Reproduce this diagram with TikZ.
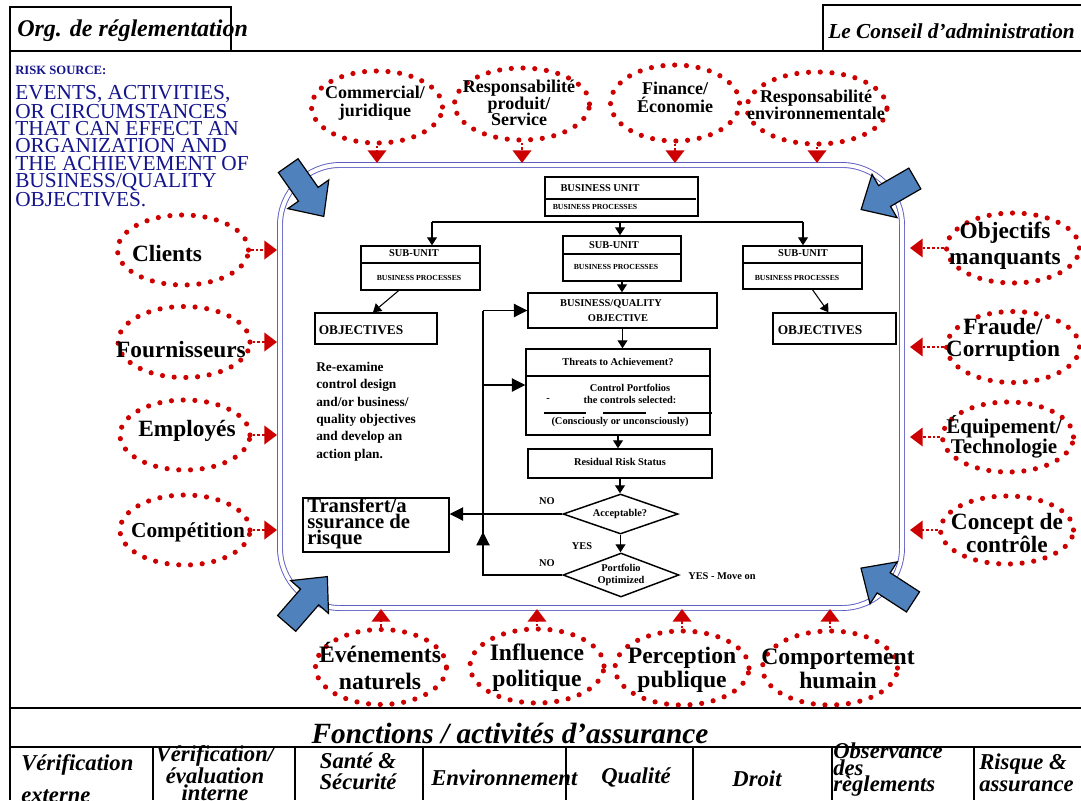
\documentclass[tikz,border=0pt]{standalone}
\usepackage{fontspec}
\setmainfont{Liberation Serif}
\usetikzlibrary{arrows.meta,shapes.geometric,calc}
\definecolor{navyt}{RGB}{20,20,140}
\definecolor{dotred}{RGB}{205,0,0}
\definecolor{framebl}{RGB}{95,95,195}
\definecolor{arrbl}{RGB}{79,129,189}
\newcommand\pw{0.75pt}
\newcommand\fsz[2]{\fontsize{#1}{#2}\selectfont}
\newcommand\blockarrow[2]{\draw[bluearr, shift={#1}, rotate=#2] (-31,-12) -- (4,-12) -- (4,-25) -- (31,0) -- (4,25) -- (4,12) -- (-31,12) -- cycle;}
\tikzset{
  riskell/.style={ellipse, draw=dotred, line width=3.9pt, line cap=round, dash pattern=on 0pt off 8.8pt, inner sep=0pt},
  rlbl/.style={font=\bfseries\fsz{#1}{#1}, align=center, inner sep=0pt},
  redcon/.style={draw=dotred, line width=1.4pt, dash pattern=on 2pt off 1.5pt, -{Triangle[width=14pt,length=9.5pt]}},
  bluearr/.style={draw=black, line width=0.9pt, fill=arrbl, line join=miter},
  fbox/.style={draw, line width=1.1pt, inner sep=0pt, rectangle},
  ddiam/.style={diamond, draw, line width=1.1pt, inner sep=0pt},
  ftxt/.style={font=\bfseries\fsz{7.8}{9.5}, inner sep=0pt, align=center},
  fsmall/.style={font=\bfseries\fsz{5.8}{7}, inner sep=0pt},
  conn/.style={line width=0.8pt, -{Triangle[width=7.5pt,length=6pt]}},
  bigconn/.style={line width=0.8pt, -{Triangle[width=10pt,length=10pt]}},
  btm/.style={font=\bfseries\itshape\fsz{17}{12.5}, inner sep=0pt},
  thick2/.style={line width=2pt},
  divl/.style={line width=1.1pt}
}
\begin{document}
\begin{tikzpicture}[x=0.75pt,y=-0.75pt]
\useasboundingbox (0,0) rectangle (1081,800);
\clip (0,0) rectangle (1081,800);
% ---- outer frame lines
\draw[thick2] (10,51) -- (10,800);
\draw[thick2] (10,51) -- (1081,51);
\draw[line width=2.2pt] (10,708) -- (1081,708);
\draw[line width=1.3pt] (10,747) -- (1081,747);
\foreach \x in {153,295,423,566,693,832,974} \draw[line width=1.3pt] (\x,747) -- (\x,800);
% ---- headers
\node[draw, line width=2pt, minimum width=221*\pw, minimum height=44*\pw, inner sep=0pt] (orgbox) at (120.5,29) {};
\node[font=\bfseries\itshape\fsz{18}{20}, anchor=west, inner sep=0pt] (orgtxt) at (17,31) {Org. de réglementation};
\node[draw, line width=2pt, minimum width=270*\pw, minimum height=46*\pw, inner sep=0pt] (cabox) at (958,28) {};
\node[font=\bfseries\itshape\fsz{16}{18}, anchor=west, inner sep=0pt] (catxt) at (828,31) {Le Conseil d’administration};
% ---- risk source text
\node[font=\bfseries\fsz{9.5}{11}, text=navyt, anchor=west, inner sep=0pt] (rs) at (15,70) {RISK SOURCE:};
\node[font=\fsz{16}{13}, text=navyt, anchor=north west, align=left, inner sep=0pt] (rsbody) at (15,85) {EVENTS, ACTIVITIES,\\OR CIRCUMSTANCES\\THAT CAN EFFECT AN\\ORGANIZATION AND\\THE ACHIEVEMENT OF\\BUSINESS/QUALITY\\OBJECTIVES.};
% ---- big rounded frame
\draw[framebl, line width=0.7pt, double=white, double distance=3pt, rounded corners=45pt] (280,165) rectangle (902,608);
\coordinate (ft) at (0,163);
\coordinate (fb) at (0,609);
\coordinate (fl) at (277,0);
\coordinate (fr) at (910,0);
% ---- top ellipses
\node[riskell, minimum width=131*\pw, minimum height=72*\pw] (comm) at (377,107) {};
\node[rlbl=13.5, font=\bfseries\fsz{13.5}{13.5}] (commt) at (375,103) {Commercial/\\juridique};
\node[riskell, minimum width=135*\pw, minimum height=72*\pw] (prod) at (522,104) {};
\node[rlbl=13.5, font=\bfseries\fsz{13.5}{12.4}] (prodt) at (519,103) {Responsabilité\\produit/\\Service};
\node[riskell, minimum width=129*\pw, minimum height=76*\pw] (fin) at (675,103) {};
\node[rlbl=13.5, font=\bfseries\fsz{13.5}{13.5}] (fint) at (675,97) {Finance/\\Économie};
\node[riskell, minimum width=140*\pw, minimum height=72*\pw] (env) at (817,108) {};
\node[rlbl=13.5, font=\bfseries\fsz{13.5}{11.3}] (envt) at (816,105) {Responsabilité\\environnementale};
\foreach \n in {comm,prod,fin,env} \draw[redcon] (\n.south) -- (\n.south |- ft);
% ---- left ellipses
\node[riskell, minimum width=131*\pw, minimum height=70*\pw] (cli) at (183,250) {};
\node[rlbl=17.5] (clit) at (167,254) {Clients};
\node[riskell, minimum width=132*\pw, minimum height=71*\pw] (fou) at (184,342) {};
\node[rlbl=17.5] (fout) at (181,350) {Fournisseurs};
\node[riskell, minimum width=130*\pw, minimum height=70*\pw] (emp) at (185,435) {};
\node[rlbl=17.5] (empt) at (187,431) {Employés};
\node[riskell, minimum width=130*\pw, minimum height=70*\pw] (com) at (185,530) {};
\node[rlbl=16] (comt) at (188,532) {Compétition};
\foreach \n in {cli,fou,emp,com} \draw[redcon] (\n.east) -- (\n.east -| fl);
% ---- right ellipses
\node[riskell, minimum width=133*\pw, minimum height=70*\pw] (obj) at (1013,248) {};
\node[rlbl=17.5, font=\bfseries\fsz{17.5}{19.5}] (objt) at (1005,246) {Objectifs\\manquants};
\node[riskell, minimum width=133*\pw, minimum height=71*\pw] (fra) at (1013,347) {};
\node[rlbl=17.5, font=\bfseries\fsz{17.5}{17}] (frat) at (1003,340) {Fraude/\\Corruption};
\node[riskell, minimum width=131*\pw, minimum height=70*\pw] (equ) at (1008,437) {};
\node[rlbl=15.7, font=\bfseries\fsz{15.7}{15}] (equt) at (1004,437) {Équipement/\\Technologie};
\node[riskell, minimum width=133*\pw, minimum height=68*\pw] (con) at (1007,530) {};
\node[rlbl=17.5, font=\bfseries\fsz{17.5}{17}] (cont) at (1007,533) {Concept de\\contrôle};
\foreach \n in {obj,fra,equ,con} \draw[redcon] (\n.west) -- (\n.west -| fr);
% ---- bottom ellipses
\node[riskell, minimum width=131*\pw, minimum height=75*\pw] (eve) at (381,667) {};
\node[rlbl=17.7, font=\bfseries\fsz{17.7}{20}] (evet) at (380,666) {Événements\\naturels};
\node[riskell, minimum width=134*\pw, minimum height=74*\pw] (inf) at (537,666) {};
\node[rlbl=17.7, font=\bfseries\fsz{17.7}{19.5}] (inft) at (537,668) {Influence\\politique};
\node[riskell, minimum width=134*\pw, minimum height=74*\pw] (per) at (682,668) {};
\node[rlbl=17.7, font=\bfseries\fsz{17.7}{18}] (pert) at (682,670) {Perception\\publique};
\node[riskell, minimum width=135*\pw, minimum height=74*\pw] (cpt) at (830,668) {};
\node[rlbl=17.7, font=\bfseries\fsz{17.7}{18}] (cptt) at (838,669) {Comportement\\humain};
\foreach \n in {eve,inf,per,cpt} \draw[redcon] (\n.north) -- (\n.north |- fb);
% ---- blue block arrows
\blockarrow{(306,191)}{-55}
\blockarrow{(888,194)}{-150}
\blockarrow{(307,600)}{49}
\blockarrow{(887,585)}{147}
% ---- flowchart boxes
\node[fbox, minimum width=153*\pw, minimum height=39*\pw] (bu) at (621.5,196.5) {};
\draw[divl] (545,199) -- (696,199);
\node[ftxt] (butx) at (600,188) {BUSINESS UNIT};
\node[fsmall] (bubp) at (595,207) {BUSINESS PROCESSES};
\node[fbox, minimum width=119*\pw, minimum height=44*\pw] (sul) at (420.5,268) {};
\draw[divl] (361,263) -- (480,263);
\node[ftxt] (sultx) at (414,253) {SUB-UNIT};
\node[fsmall] (sulbp) at (419,278) {BUSINESS PROCESSES};
\node[fbox, minimum width=118*\pw, minimum height=45*\pw] (suc) at (622,258.5) {};
\draw[divl] (563,254) -- (681,254);
\node[ftxt] (suctx) at (614,245) {SUB-UNIT};
\node[fsmall] (sucbp) at (616,267) {BUSINESS PROCESSES};
\node[fbox, minimum width=119*\pw, minimum height=43*\pw] (sur) at (802.5,267.5) {};
\draw[divl] (743,263) -- (862,263);
\node[ftxt] (surtx) at (803,253) {SUB-UNIT};
\node[fsmall] (surbp) at (797,278) {BUSINESS PROCESSES};
\node[fbox, minimum width=122*\pw, minimum height=31*\pw] (objl) at (376,328.5) {};
\node[font=\bfseries\fsz{10}{12}, inner sep=0pt] (objlt) at (361,330) {OBJECTIVES};
\node[fbox, minimum width=123*\pw, minimum height=31*\pw] (objr) at (834.5,328.5) {};
\node[font=\bfseries\fsz{10}{12}, inner sep=0pt] (objrt) at (820,330) {OBJECTIVES};
\node[fbox, minimum width=189*\pw, minimum height=35*\pw] (bq) at (622.5,310.5) {};
\node[ftxt] (bqt1) at (611,304) {BUSINESS/QUALITY};
\node[ftxt] (bqt2) at (618,318) {OBJECTIVE};
\node[fbox, minimum width=184*\pw, minimum height=86*\pw] (thr) at (618,392) {};
\draw[divl] (526,376) -- (710,376);
\node[ftxt] (thrt) at (618,362) {Threats to Achievement?};
\node[ftxt] (cpf) at (630,388) {Control Portfolios};
\node[ftxt] (dash) at (548,400) {-};
\node[ftxt] (csel) at (630,400) {the controls selected:};
\draw[line width=1.2pt] (544,413) -- (586,413);
\draw[line width=1.2pt] (603,413) -- (646,413);
\draw[line width=1.2pt] (668,413) -- (712,413);
\node[ftxt] (cons) at (620,422) {(Consciously or unconsciously)};
\node[fbox, minimum width=184*\pw, minimum height=29*\pw] (res) at (620,463.5) {};
\node[ftxt] (rest) at (620,462) {Residual Risk Status};
\node[ddiam, minimum width=115*\pw, minimum height=40*\pw] (acc) at (620.5,514) {};
\node[ftxt] (acct) at (620,514) {Acceptable?};
\node[ddiam, minimum width=116*\pw, minimum height=44*\pw] (port) at (621,575) {};
\node[ftxt] (portt) at (621,575) {Portfolio\\Optimized};
\node[fbox, minimum width=146*\pw, minimum height=54*\pw] (tr) at (376,525) {};
\node[font=\bfseries\fsz{15.5}{12}, anchor=north west, align=left, inner sep=0pt] (trt) at (307,498) {Transfert/a\\ssurance de\\risque};
\node[font=\bfseries\fsz{10}{13}, anchor=north west, align=left, inner sep=0pt] (reex) at (316,362) {Re-examine\\control design\\and/or business/\\quality objectives\\and develop an\\action plan.};
\node[ftxt] (no1) at (547,501) {NO};
\node[ftxt] (yes1) at (582,546) {YES};
\node[ftxt] (no2) at (547,563) {NO};
\node[ftxt, anchor=west] (yesmo) at (688,576) {YES - Move on};
% ---- flowchart connectors
\coordinate (hl) at (432,222);
\coordinate (hc) at (620,222);
\coordinate (hr) at (803,222);
\draw[line width=0.8pt] (hl) -- (hr);
\draw[conn] (hl) -- (hl |- sul.north);
\draw[conn] (hc) -- (hc |- suc.north);
\draw[conn] (hr) -- (hr |- sur.north);
\draw[conn] ([xshift=-22*\pw]sul.south) -- ([xshift=-3*\pw]objl.north);
\draw[conn] ([xshift=10*\pw]sur.south) -- ([xshift=-6*\pw]objr.north);
\draw[conn] (suc.south) -- (suc.south |- bq.north);
\draw[conn] (bq.south) -- (bq.south |- thr.north);
\draw[conn] (thr.south) -- (thr.south |- res.north);
\draw[conn] (res.south) -- (res.south |- acc.north);
\draw[conn] (acc.south) -- (acc.south |- port.north);
\draw[bigconn] (acc.west) -- (acc.west -| tr.east);
\coordinate (lp) at (483,575);
\coordinate (lt) at (483,310.5);
\coordinate (lm) at (483,532);
\coordinate (lq) at (483,385);
\draw[line width=0.8pt] (port.west) -- (lp) -- (lt);
\draw[bigconn] (lt) -- (bq.west);
\draw[bigconn] (lp) -- (lm);
\draw[bigconn] (lq) -- (lq -| thr.west);
% ---- bottom band
\node[font=\bfseries\itshape\fsz{22}{24}, inner sep=0pt] (fonc) at (510,733) {Fonctions / activités d’assurance};
\node[btm, anchor=west] (c1a) at (21,765) {Vérification};
\node[btm, anchor=west] (c1b) at (21,796) {externe};
\node[btm, align=center] (c2) at (215,773) {Vérification/\\évaluation\\interne};
\node[btm, align=center, font=\bfseries\itshape\fsz{17}{16}] (c3) at (358,771) {Santé \&\\Sécurité};
\node[btm, anchor=west] (c4) at (431,778) {Environnement};
\node[btm] (c5) at (636,777) {Qualité};
\node[btm] (c6) at (757,779) {Droit};
\node[btm, anchor=west, align=left, font=\bfseries\itshape\fsz{17}{12.4}] (c7) at (833,770) {Observance\\des\\règlements};
\node[btm, anchor=west, align=left, font=\bfseries\itshape\fsz{17}{16.5}] (c8) at (979,773) {Risque \&\\assurance};
\end{tikzpicture}
\end{document}
